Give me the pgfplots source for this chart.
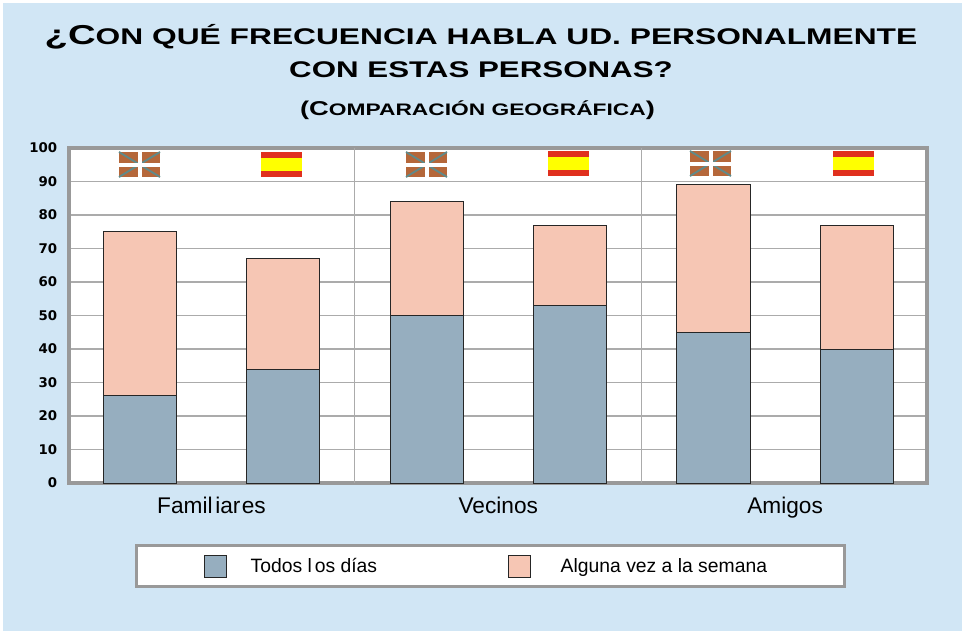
\documentclass[border=0pt]{standalone}
\usepackage{pgfplots}
\pgfplotsset{compat=1.18}
\usepackage{fontspec}
\setmainfont{Liberation Sans}
\newfontfamily\tickfont{DejaVu Sans}
\definecolor{bgb}{HTML}{D1E6F5}
\definecolor{frameg}{HTML}{999999}
\definecolor{gridg}{HTML}{ABABAB}
\definecolor{barb}{HTML}{96AEBF}
\definecolor{barp}{HTML}{F6C6B4}
\definecolor{fred}{HTML}{E0301E}
\definecolor{fyel}{HTML}{FFFF00}
\definecolor{ikr}{HTML}{B5673A}
\definecolor{ikg}{HTML}{5F8A8A}
\newcommand{\ikur}[2]{%
  \fill[ikr] (#1,#2) rectangle ++(41,25);
  \draw[ikg,line width=1.4pt] (#1,#2) -- ++(41,25);
  \draw[ikg,line width=1.4pt] (#1,#2+25) -- ++(41,-25);
  \fill[white] (#1+19,#2) rectangle ++(4,25);
  \fill[white] (#1,#2+11) rectangle ++(41,3.5);}
\newcommand{\espana}[2]{%
  \fill[fred] (#1,#2) rectangle ++(41,25);
  \fill[fyel] (#1,#2+6) rectangle ++(41,12.5);}
\newcommand{\tfont}[1]{\fontsize{#1}{#1}\selectfont\bfseries}
\begin{document}
\begin{tikzpicture}[x=0.75pt,y=-0.75pt]
\fill[white] (0,0) rectangle (962,631);
\fill[bgb] (3,3) rectangle (962,631);
\begin{axis}[
  at={(51.75pt,-362.25pt)}, anchor=south west,
  scale only axis, width=643.5pt, height=251.25pt,
  ybar stacked, bar width=0.51,
  xmin=-0.4935, xmax=5.4895, ymin=0, ymax=100,
  ytick={0,10,...,100},
  xtick={0.5,2.5,4.5},
  xticklabels={Famil\kern2pt iar\kern1pt es,Vecinos,Amigos},
  extra x ticks={1.5,3.5}, extra x tick labels={},
  extra x tick style={grid=major, major grid style={gridg,line width=0.9pt}, tick style={draw=none}},
  ymajorgrids, major grid style={gridg,line width=1.4pt},
  major tick length=0pt,
  axis line style={frameg,line width=2.8pt},
  axis background/.style={fill=white},
  /pgf/number format/assume math mode=true,
  yticklabel style={font=\tickfont\bfseries\fontsize{10}{10}\selectfont, xshift=-5.3pt},
  xticklabel style={font=\fontsize{17}{17}\selectfont, yshift=-7pt},
  legend columns=2,
  legend cell align=left,
  legend style={at={(0.0769,-0.182)},anchor=north west,font=\fontsize{14.5}{14.5}\selectfont,
    draw=frameg,line width=2.2pt,fill=white,inner xsep=50.5pt,inner ysep=7pt,
    /tikz/every even column/.append style={column sep=96pt}},
  legend image code/.code={\draw[#1,line width=0.6pt] (0pt,-8.25pt) rectangle (16.5pt,8.25pt); \path (32.5pt,0pt);},
]
\addplot[fill=barb,draw=black!85,line width=0.7pt] coordinates {(0,26)(1,34)(2,50)(3,53)(4,45)(5,40)};
\addlegendentry{Todos l\kern2.2pt os días}
\addplot[fill=barp,draw=black!85,line width=0.7pt] coordinates {(0,49)(1,33)(2,34)(3,24)(4,44)(5,37)};
\addlegendentry{\hspace*{4.5pt}Alguna vez a la semana\hspace*{5.3pt}}
\end{axis}
\ikur{119}{152}\ikur{406}{152}\ikur{690}{151}
\espana{261}{152}\espana{548}{151}\espana{833}{151}
\node[anchor=base,inner sep=0] at (481,45) {\scalebox{1.40}[1]{\tfont{20.5}¿C{\tfont{17}ON QUÉ FRECUENCIA HABLA UD. PERSONALMENTE}}};
\node[anchor=base,inner sep=0] at (481,78) {\scalebox{1.38}[1]{\tfont{17}CON ESTAS PERSONAS?}};
\node[anchor=base,inner sep=0] at (477.5,116) {\scalebox{1.365}[1]{\tfont{15}(C{\tfont{12.5}OMPARACIÓN GEOGRÁFICA})}};
\end{tikzpicture}
\end{document}
